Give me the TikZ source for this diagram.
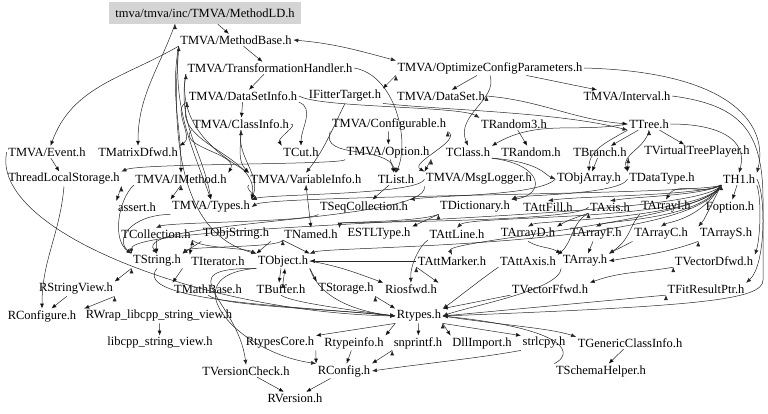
\documentclass[tikz,border=0pt]{standalone}
\usepackage{fontspec}
\setmainfont{Liberation Serif}
\usetikzlibrary{arrows.meta}

\definecolor{rootgray}{gray}{0.83}
\definecolor{edgegray}{gray}{0.15}
\tikzset{
  hdr/.style={inner sep=1.5pt, font=\fontsize{12.5}{14}\selectfont},
  roothdr/.style={hdr, fill=rootgray, inner xsep=6pt, minimum height=22pt},
  inc/.style={draw=edgegray, line width=0.5pt, -{Latex[length=5pt,width=4pt]}},
  incboth/.style={inc, {Latex[length=5pt,width=4pt]}-{Latex[length=5pt,width=4pt]}},
}

\begin{document}
\begin{tikzpicture}[x=1pt,y=-1pt]
\useasboundingbox (0,0) rectangle (768,414);
% headers, row by row
\node[roothdr] (mLD) at (205,13) {tmva/tmva/inc/TMVA/MethodLD.h};
\node[hdr] (mBase) at (236,40) {TMVA/MethodBase.h};
\node[hdr] (tHandler) at (270,68) {TMVA/TransformationHandler.h};
\node[hdr] (optCfg) at (490,68) {TMVA/OptimizeConfigParameters.h};
\node[hdr] (dsInfo) at (243,96) {TMVA/DataSetInfo.h};
\node[hdr] (ifit) at (345,96) {IFitterTarget.h};
\node[hdr] (dataSet) at (441,96) {TMVA/DataSet.h};
\node[hdr] (interval) at (627,96) {TMVA/Interval.h};
\node[hdr] (clInfo) at (241,124) {TMVA/ClassInfo.h};
\node[hdr] (configurable) at (389,124) {TMVA/Configurable.h};
\node[hdr] (rand3) at (514,124) {TRandom3.h};
\node[hdr] (ttree) at (649,124) {TTree.h};
\node[hdr] (event) at (47,152) {TMVA/Event.h};
\node[hdr] (matD) at (138,152) {TMatrixDfwd.h};
\node[hdr] (tcut) at (301,152) {TCut.h};
\node[hdr] (option) at (388,152) {TMVA/Option.h};
\node[hdr] (tclass) at (468,152) {TClass.h};
\node[hdr] (trandom) at (531,152) {TRandom.h};
\node[hdr] (tbranch) at (600,152) {TBranch.h};
\node[hdr] (vtp) at (697,152) {TVirtualTreePlayer.h};
\node[hdr] (tls) at (64,179) {ThreadLocalStorage.h};
\node[hdr] (imethod) at (181,179) {TMVA/IMethod.h};
\node[hdr] (varInfo) at (306,179) {TMVA/VariableInfo.h};
\node[hdr] (tlist) at (396,179) {TList.h};
\node[hdr] (msgLog) at (479,179) {TMVA/MsgLogger.h};
\node[hdr] (objArr) at (589,179) {TObjArray.h};
\node[hdr] (dataType) at (662,179) {TDataType.h};
\node[hdr] (th1) at (739,179) {TH1.h};
\node[hdr] (assert) at (137,207) {assert.h};
\node[hdr] (types) at (211,207) {TMVA/Types.h};
\node[hdr] (seqColl) at (364,207) {TSeqCollection.h};
\node[hdr] (dict) at (475,207) {TDictionary.h};
\node[hdr] (attFill) at (548,207) {TAttFill.h};
\node[hdr] (taxis) at (610,207) {TAxis.h};
\node[hdr] (arrI) at (666,207) {TArrayI.h};
\node[hdr] (foption) at (730,207) {Foption.h};
\node[hdr] (coll) at (156,234) {TCollection.h};
\node[hdr] (objStr) at (236,234) {TObjString.h};
\node[hdr] (named) at (311,234) {TNamed.h};
\node[hdr] (estl) at (379,234) {ESTLType.h};
\node[hdr] (attLine) at (457,234) {TAttLine.h};
\node[hdr] (arrD) at (528,234) {TArrayD.h};
\node[hdr] (arrF) at (596,234) {TArrayF.h};
\node[hdr] (arrC) at (661,234) {TArrayC.h};
\node[hdr] (arrS) at (726,234) {TArrayS.h};
\node[hdr] (tstring) at (157,261) {TString.h};
\node[hdr] (iter) at (218,261) {TIterator.h};
\node[hdr] (tobject) at (283,261) {TObject.h};
\node[hdr] (attMarker) at (452,261) {TAttMarker.h};
\node[hdr] (attAxis) at (528,261) {TAttAxis.h};
\node[hdr] (tarray) at (585,261) {TArray.h};
\node[hdr] (vecD) at (714,261) {TVectorDfwd.h};
\node[hdr] (strView) at (76,289) {RStringView.h};
\node[hdr] (mathBase) at (208,289) {TMathBase.h};
\node[hdr] (tbuffer) at (281,289) {TBuffer.h};
\node[hdr] (storage) at (346,289) {TStorage.h};
\node[hdr] (riosfwd) at (411,289) {Riosfwd.h};
\node[hdr] (vecF) at (550,289) {TVectorFfwd.h};
\node[hdr] (fitRes) at (706,289) {TFitResultPtr.h};
\node[hdr] (rconfigure) at (42,316) {RConfigure.h};
\node[hdr] (rwrap) at (159,316) {RWrap\_libcpp\_string\_view.h};
\node[hdr] (rtypes) at (419,316) {Rtypes.h};
\node[hdr] (libcpp) at (160,343) {libcpp\_string\_view.h};
\node[hdr] (rtypesCore) at (280,343) {RtypesCore.h};
\node[hdr] (rtypeinfo) at (354,343) {Rtypeinfo.h};
\node[hdr] (snprintf) at (418,343) {snprintf.h};
\node[hdr] (dllimport) at (482,343) {DllImport.h};
\node[hdr] (strlcpy) at (544,343) {strlcpy.h};
\node[hdr] (genClass) at (630,343) {TGenericClassInfo.h};
\node[hdr] (verCheck) at (246,371) {TVersionCheck.h};
\node[hdr] (rconfig) at (344,371) {RConfig.h};
\node[hdr] (schema) at (601,371) {TSchemaHelper.h};
\node[hdr] (rversion) at (295,398) {RVersion.h};

% TMVA part
\draw[inc] (mLD) edge (mBase)
  ([xshift=-30pt]mLD.south) edge[out=-110,in=90] (matD.north);
\draw[incboth] (mBase.east) to[out=-5,in=165] (optCfg.north west);
\draw[inc] (mBase) edge (tHandler)
  (mBase.south west) edge[out=-150,in=70] (event.60)
  (mBase.south west) edge[out=-100,in=90] (imethod.north)
  (mBase.south west) edge[out=-95,in=110] (types.north);
\draw[inc] (mBase.south west) .. controls (170,150) and (185,235) .. (tobject.north west);
\draw[inc] (tHandler) edge (dsInfo)
  (tHandler.south west) edge[out=-100,in=100] (types.north)
  (tHandler.south west) edge[out=-100,in=150] (varInfo.north west);
\draw[inc] (tHandler.east) .. controls (395,75) and (410,140) .. (tlist.north);
\draw[inc] (dsInfo) edge (clInfo)
  (dsInfo.south west) edge[out=-160,in=30] (matD.north east)
  (dsInfo.south east) edge[out=-20,in=90] (tcut.north)
  (dsInfo.south west) edge[out=-110,in=80] (types.north east);
\draw[inc] (dsInfo.east) .. controls (320,108) and (460,106) .. (rand3.north west);
\draw[inc] (optCfg) edge (dataSet)
  (optCfg.south west) edge (ifit.north east)
  (optCfg) edge (interval);
\draw[inc] (optCfg.east) .. controls (740,72) and (768,130) .. (th1.north east);
\draw[inc] (optCfg.south) .. controls (498,100) and (455,115) .. (tclass.north);
\draw[inc] (dataSet.east) edge[out=-5,in=175] (ttree.west);
\draw[inc] (ifit.south east) .. controls (440,110) and (560,112) .. (ttree.south west);
\draw[inc] (interval.east) .. controls (740,105) and (763,130) .. (763,200)
  -- (763,280) .. controls (763,300) and (700,306) .. (rtypes.east);
\draw[inc] (configurable) edge (option)
  (configurable.south west) edge[out=-110,in=110] (tlist.north)
  (configurable.south east) edge[out=-30,in=150] (msgLog.north west);
\draw[inc] (option.south west) .. controls (350,165) and (140,163) .. (tls.north east);
\draw[inc] (option) edge (tlist)
  (option.south east) edge (msgLog.north west);
\draw[inc] (clInfo.east) edge[out=0,in=120] (tcut.north west)
  (clInfo.south west) edge[out=-130,in=60] (imethod.north east)
  (clInfo.south) edge[out=-90,in=135] (varInfo.north west)
  (clInfo.south) edge[out=-100,in=70] (types.north east);
\draw[inc] (ifit.south) .. controls (332,130) and (324,150) .. (varInfo.north);
\draw[inc] (event) edge (tls);
\draw[inc] (event.west) .. controls (-10,230) and (200,312) .. (rtypes.west);
\draw[inc] (tls.south) edge[out=-95,in=90] (rconfigure.north)
  (tls.south east) edge (assert.north west);
\draw[inc] (imethod.south) edge (types.north west);
\draw[inc] (imethod.south west) .. controls (118,200) and (112,240) .. (tstring.north west);
\draw[inc] (varInfo.south west) edge[out=-160,in=20] (types.north east)
  (varInfo.south) edge (named.north);

% TTree, TH1 and friends
\draw[inc] (rand3) edge (trandom)
  (ttree) edge (tbranch)
  (ttree) edge (vtp)
  (ttree.west) edge[out=190,in=30] (tclass.north east)
  (ttree.south west) edge[out=-150,in=90] (objArr.north)
  (ttree.south) edge[out=-100,in=110] (dataType.north west);
\draw[inc] (ttree.east) .. controls (720,124) and (748,140) .. (th1.north);
\draw[inc] (tbranch) edge (objArr)
  (tbranch.south east) edge (dataType.north west);
\draw[inc] (tclass.south east) .. controls (545,165) and (545,195) .. (dict.north east);
\draw[inc] (tclass.south east) .. controls (540,162) and (545,175) .. (objArr.west);
\draw[inc] (tlist) edge (seqColl);
\draw[inc] (msgLog.west) .. controls (420,195) and (270,194) .. (types.north east);
\draw[inc] (msgLog.south west) .. controls (430,222) and (130,220) .. (tstring.north);
\draw[inc] (objArr.west) .. controls (540,196) and (440,195) .. (seqColl.north east);
\draw[inc] (dataType.west) .. controls (620,195) and (520,195) .. (dict.north east);
\draw[inc] (th1.south west) .. controls (700,195) and (270,195) .. (types.east);
\draw[inc] (th1.south west) .. controls (700,196) and (640,196) .. (taxis.north);
\draw[inc] (th1.south west) .. controls (700,196) and (575,196) .. (attFill.north);
\draw[inc] (th1.south west) .. controls (700,222) and (470,215) .. (attLine.north);
\draw[inc] (th1.south west) .. controls (705,222) and (445,240) .. (attMarker.north);
\draw[inc] (th1.south west) .. controls (700,222) and (130,221) .. (tstring.north west);
\draw[inc] (th1.south west) .. controls (695,248) and (330,246) .. (tobject.north east);
\draw[inc] (th1.south west) .. controls (700,220) and (540,220) .. (arrD.north);
\draw[inc] (th1.south west) .. controls (700,220) and (610,220) .. (arrF.north);
\draw[inc] (th1.south west) .. controls (700,220) and (668,222) .. (arrC.north);
\draw[inc] (th1.south west) .. controls (704,220) .. (arrS.north west);
\draw[inc] (th1) edge (foption)
  (th1.south west) edge[out=-150,in=60] (arrI.north);
\draw[inc] (th1.south east) .. controls (762,200) and (760,240) .. (vecD.north east);
\draw[inc] (th1.east) .. controls (766,195) and (766,265) .. (fitRes.north east);
\draw[inc] (taxis.south west) edge[out=-150,in=40] (attAxis.north east)
  (taxis.south west) edge[out=-160,in=30] (arrD.north east);
\draw[inc] (taxis.west) .. controls (580,222) and (340,222) .. (named.north east);
\draw[inc] (arrD.south) edge[out=-30,in=150] (tarray.north west)
  (arrF) edge (tarray)
  (arrC.south west) edge (tarray.north east)
  (arrS.south west) edge[out=-160,in=10] (tarray.east);
\draw[inc] (arrI.south west) .. controls (630,225) and (630,240) .. (tarray.north east);
\draw[inc] (vecD.south west) edge[out=190,in=20] (vecF.north east);

% TObject, TString and below
\draw[inc] (seqColl.south west) .. controls (310,222) and (170,222) .. (coll.north);
\draw[inc] (dict.south west) .. controls (420,222) and (340,222) .. (named.north east);
\draw[inc] (dict.south west) edge (estl.north east);
\draw[inc] (types.south west) .. controls (130,215) and (115,240) .. (tstring.north west);
\draw[inc] (coll) edge (tstring)
  (coll.south east) edge (iter.north west);
\draw[inc] (coll.south east) .. controls (200,248) and (245,248) .. (tobject.north west);
\draw[inc] (objStr.south east) edge (tobject.north west)
  (objStr.south west) edge (tstring.north east)
  (named.south west) edge (tobject.north east);
\draw[inc] (named.south west) .. controls (280,248) and (190,246) .. (tstring.north east);
\draw[inc] (attMarker.west) edge (tobject.east)
  (attMarker.south west) edge (riosfwd.north east);
\draw[inc] (attLine.south west) .. controls (420,245) and (410,265) .. (riosfwd.north);
\draw[inc] (tobject.east) edge[out=-10,in=160] (riosfwd.north west)
  (tobject.south east) edge (storage.north west)
  ([xshift=-2pt]tobject.south) edge ([xshift=-2pt]tbuffer.north)
  ([xshift=2pt]tbuffer.north) edge ([xshift=2pt]tobject.south);
\draw[inc] (tobject.south east) .. controls (320,300) and (360,312) .. (rtypes.west);
\draw[inc] (tobject.south west) .. controls (165,268) and (238,300) .. (verCheck.north);
\draw[inc] (tobject.south west) .. controls (170,275) and (235,352) .. (rconfig.north west);
\draw[inc] (tstring.south east) edge (mathBase.north west)
  (tstring.south west) edge (strView.north east);
\draw[inc] (tstring.south) .. controls (130,302) and (300,306) .. (rtypes.west);
\draw[inc] (attAxis.south west) .. controls (480,280) and (455,300) .. (rtypes.north east);
\draw[inc] (tarray.south west) .. controls (560,290) and (470,306) .. (rtypes.east);
\draw[inc] (storage.south east) edge (rtypes.north west);
\draw[inc] (mathBase.south) .. controls (220,306) and (330,309) .. (rtypes.west);
\draw[inc] (tbuffer.south) .. controls (290,302) and (350,310) .. (rtypes.west);
\draw[inc] (vecF.south west) edge (rtypes.north east)
  (fitRes.south west) edge (rtypes.east);
\draw[inc] (strView) edge (rconfigure)
  (strView.south east) edge (rwrap.north west)
  (rwrap) edge (libcpp);
\draw[inc] (rtypes.south west) edge (rtypesCore.north east)
  (rtypes.south west) edge (rtypeinfo.north east)
  (rtypes) edge (snprintf)
  (rtypes.south east) edge (dllimport.north west)
  (rtypes.south east) edge (strlcpy.north west);
\draw[inc] (rtypes.east) .. controls (500,325) and (550,328) .. (genClass.north west);
\draw[inc] (schema.north west) .. controls (572,355) and (575,330) .. (rtypes.east);
\draw[inc] (strlcpy.south west) .. controls (480,358) and (420,364) .. (rconfig.east);
\draw[inc] (rtypesCore.south east) edge (rconfig.north west)
  (rtypeinfo) edge (rconfig)
  (snprintf.south west) edge (rconfig.north east)
  (genClass) edge (schema);
\draw[inc] (verCheck) edge (rversion)
  (rconfig) edge (rversion);
\end{tikzpicture}
\end{document}
